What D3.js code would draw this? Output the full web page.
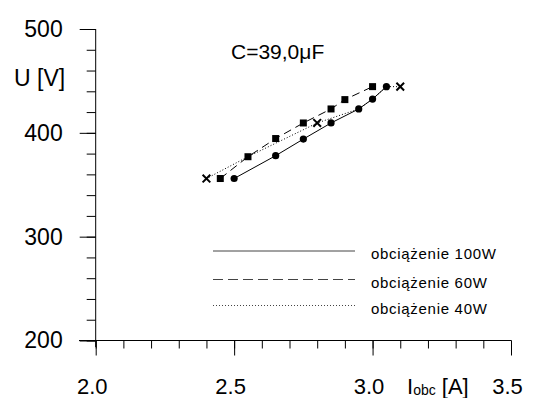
<!DOCTYPE html>
<html>
<head>
<meta charset="utf-8">
<script src="https://cdn.jsdelivr.net/npm/d3@7"></script>
<style>
  body { margin: 0; background: #fff; }
  svg { display: block; font-family: "Liberation Sans", Arial, sans-serif; }
</style>
</head>
<body>
<svg width="535" height="398"></svg>
<script>
// prad I [A], napiecie U [V]
const series100 = [[2.50, 356], [2.65, 378], [2.75, 394], [2.85, 409.5], [2.95, 423], [3.00, 432.5], [3.05, 444.5]]
const series60 = [[2.45, 356], [2.55, 377], [2.65, 394.5], [2.75, 409.5], [2.85, 423], [2.90, 432], [3.00, 444.5]]
const series40 = [[2.40, 356], [2.55, 377], [2.80, 409.5], [2.95, 423], [3.00, 432.5], [3.05, 444.5], [3.10, 444.5]]
const legendLabels = ["obciążenie 100W", "obciążenie 60W", "obciążenie 40W"]
const xTicks = [2.0, 2.5, 3.0, 3.5]
const yTicks = [200, 300, 400, 500]

const svg = d3.select("svg")

const x = d3.scaleLinear().domain([2.0, 3.5]).range([95.7, 511])
const y = d3.scaleLinear().domain([200, 500]).range([340.5, 29])

// os Y
const yMinor = d3.axisLeft(y).tickValues(d3.range(200, 501, 20)).tickSize(9).tickFormat("")
const yMajor = d3.axisLeft(y).tickValues(yTicks).tickSize(16).tickPadding(17).tickFormat(d3.format("d"))

svg.append("g").attr("transform", "translate(95.7,0)").call(yMinor)
svg.append("g").attr("transform", "translate(95.7,0)").call(yMajor)
  .call(g => g.selectAll("text").attr("font-size", 23).attr("fill", "#000"))

// os X
const xMinor = d3.axisBottom(x).tickValues(d3.range(20, 36, 1).map(d => d / 10)).tickSize(8).tickFormat("")
const xMajor = d3.axisBottom(x).tickValues(xTicks).tickSize(15).tickPadding(23).tickFormat(d3.format(".1f"))

svg.append("g").attr("transform", "translate(0,340.5)").call(xMinor)
svg.append("g").attr("transform", "translate(0,340.5)").call(xMajor)
  .call(g => g.selectAll("text").attr("font-size", 22).attr("fill", "#000").attr("dx", -4))

svg.selectAll(".domain").remove()
svg.selectAll(".tick line").attr("stroke", "#000")

svg.append("line").attr("x1", 95.7).attr("x2", 95.7).attr("y1", 29).attr("y2", 347).attr("stroke", "#000")
svg.append("line").attr("x1", 79).attr("x2", 511).attr("y1", 340.5).attr("y2", 340.5).attr("stroke", "#000")

// opisy osi
svg.append("text").attr("x", 14).attr("y", 86).attr("font-size", 23).text("U [V]")

const xl = svg.append("text").attr("x", 407).attr("y", 394).attr("font-size", 22)
xl.append("tspan").text("I")
xl.append("tspan").attr("font-size", 14).attr("dy", 1).text("obc")
xl.append("tspan").attr("dy", -1).text(" [A]")

svg.append("text").attr("x", 231).attr("y", 59).attr("font-size", 21).text("C=39,0μF")

// serie
const line = d3.line().x(d => x(d[0])).y(d => y(d[1]))
const styles = [
  { data: series100, dash: null },
  { data: series60, dash: "8,5" },
  { data: series40, dash: "1,2" }
]

styles.forEach(s => {
  svg.append("path")
    .datum(s.data)
    .attr("d", line)
    .attr("fill", "none")
    .attr("stroke", "#000")
    .attr("stroke-width", 1)
    .attr("stroke-dasharray", s.dash)
})

// markery
svg.append("g").selectAll("circle")
  .data(series100)
  .join("circle")
    .attr("cx", d => x(d[0]))
    .attr("cy", d => y(d[1]))
    .attr("r", 3.6)
    .attr("fill", "#000")

svg.append("g").selectAll("rect")
  .data(series60)
  .join("rect")
    .attr("x", d => x(d[0]) - 3.5)
    .attr("y", d => y(d[1]) - 3.5)
    .attr("width", 7)
    .attr("height", 7)
    .attr("fill", "#000")

const crossPts = [series40[0], series40[2], series40[6]]
svg.append("g").selectAll("path")
  .data(crossPts)
  .join("path")
    .attr("d", d3.symbol(d3.symbolX, 40))
    .attr("transform", d => `translate(${x(d[0])},${y(d[1])})`)
    .attr("fill", "none")
    .attr("stroke", "#000")
    .attr("stroke-width", 2)

// legenda
const legendY = [251, 279.5, 305.5]
const legendDash = [null, "10,5", "1,2"]
const legend = svg.append("g")
legendLabels.forEach((t, i) => {
  legend.append("line")
    .attr("x1", 213).attr("x2", 355)
    .attr("y1", legendY[i]).attr("y2", legendY[i])
    .attr("stroke", "#444")
    .attr("stroke-width", 1)
    .attr("stroke-dasharray", legendDash[i])
  legend.append("text")
    .attr("x", 371)
    .attr("y", legendY[i] + 8)
    .attr("font-size", 15)
    .attr("letter-spacing", 0.7)
    .text(t)
})
</script>
</body>
</html>
